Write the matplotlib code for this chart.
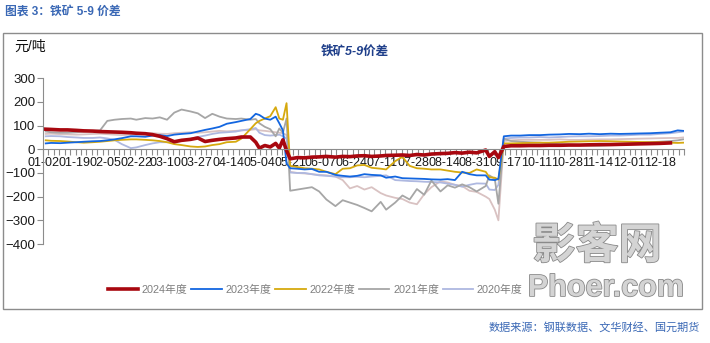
import numpy as np
import pandas as pd
import matplotlib
matplotlib.use("Agg")
import matplotlib.pyplot as plt
import matplotlib.patheffects as pe
from matplotlib.patches import Rectangle

plt.rcParams['font.family'] = ['Liberation Sans', 'Noto Sans CJK SC', 'DejaVu Sans']

# ---- category axis: calendar days (holidays with no trading in any year removed)
_d = pd.date_range('2023-01-01', '2023-12-31', freq='D')
_skip = {'01-01', '05-01', '05-02', '05-03'} | {f'10-0{i}' for i in range(1, 8)}
categories = [d.strftime('%m-%d') for d in _d if d.strftime('%m-%d') not in _skip]
tick_labels = ['01-02', '01-19', '02-05', '02-22', '03-10', '03-27', '04-14', '05-04',
               '05-21', '06-07', '06-24', '07-11', '07-28', '08-14', '08-31', '09-17',
               '10-11', '10-28', '11-14', '12-01', '12-18']

# ---- sample dates (same for every series)
sample_dates = [
    '01-03', '01-06', '01-11', '01-15', '01-20', '01-24', '01-29', '02-02', '02-06', '02-10',
    '02-14', '02-19', '02-22', '02-27', '03-03', '03-07', '03-11', '03-15', '03-19', '03-24',
    '03-28', '04-01', '04-05', '04-09', '04-13', '04-18', '04-21', '04-26', '04-29', '05-04',
    '05-07', '05-10', '05-13', '05-15', '05-17', '05-19',
    '05-21', '05-25', '05-29', '06-02', '06-06', '06-10', '06-15', '06-19', '06-23', '06-27',
    '07-01', '07-05', '07-10', '07-13', '07-18', '07-22', '07-26', '07-30', '08-03', '08-07',
    '08-12', '08-16', '08-20', '08-24', '08-28', '09-01', '09-06', '09-08', '09-11', '09-13',
    '09-16', '09-20', '09-25', '09-30', '10-13', '10-18', '10-24', '10-29', '11-04', '11-09',
    '11-15', '11-21', '11-26', '12-02', '12-07', '12-13', '12-18', '12-24', '12-28', '12-31']

nan = np.nan
y2024 = [85, 84, 82, 82, 80, 78, 77, 75, 74, 73, 72, 70, 68, 66, 62, 55, 45, 32, 38, 42,
         48, 33, 38, 42, 45, 48, 52, 52, 30, 5, 16, 10, 25, 5, 40, -5,
         -40, -35, -36, -33, -32, -30, -33, -30, -31, -28, -27, -30, -28, -26, -25, -24, -26, -22,
         -24, -20, -18, -17, -14, -16, -12, -15, -3, -30, -10, -35,
         12, 15, 15, 16, 16, 17, 17, 18, 18, 19, 20, 20, 21, 22, 23, 24, 25, 27, nan, nan]
y2023 = [25, 27, 26, 28, 30, 32, 34, 35, 38, 42, 47, 55, 55, 53, 58, 60, 56, 62, 65, 68,
         75, 82, 88, 95, 108, 115, 120, 128, 150, 145, 130, 125, 138, 110, 80, -60,
         -80, -82, -85, -83, -95, -95, -108, -112, -115, -112, -105, -108, -110, -120, -115, -122,
         -123, -124, -125, -127, -128, -126, -130, -95, -105, -110, -110, -128, -130, -125,
         55, 58, 58, 60, 60, 62, 63, 65, 64, 66, 64, 66, 65, 66, 67, 68, 70, 72, 80, 78]
y2022 = [38, 36, 35, 33, 30, 28, 30, 32, 35, 38, 40, 42, 42, 40, 38, 35, 30, 22, 18, 12,
         10, 12, 18, 22, 30, 32, 45, 85, 110, 120, 130, 140, 178, 130, 125, 195,
         -70, -75, -80, -82, -85, -95, -105, -82, -80, -68, -66, -78, -82, -85, -50, -32,
         -70, -80, -82, -85, -85, -90, -95, -98, -100, -85, -95, -118, -120, -128,
         25, 25, 26, 27, 28, 28, 30, 32, 33, 34, 35, 34, 33, 32, 31, 30, 30, 28, 27, 28]
y2021 = [75, 72, 70, 70, 72, 75, 78, 80, 120, 125, 128, 130, 125, 132, 130, 135, 125, 155,
         168, 160, 152, 132, 150, 138, 130, 128, 130, 125, 128, 110, 95, 85, 55, 88, 70, 130,
         -175, -170, -165, -160, -178, -212, -240, -215, -225, -235, -248, -262, -222, -255,
         -225, -195, -212, -168, -192, -132, -178, -152, -162, -148, -160, -178, -155, -110,
         -125, -230,
         45, 35, 32, 30, 28, 25, 22, 20, 18, 16, 15, 18, 22, 25, 28, 30, 32, 35, 38, 42]
y2020 = [55, 56, 55, 52, 50, 48, 48, 50, 46, 40, 22, 5, 8, 18, 25, 30, 30, 32, 35, 45,
         52, 58, 65, 70, 72, 75, 80, 85, 90, 70, 60, 58, 60, 62, 55, 45,
         -98, -100, -100, -105, -110, -112, -115, -118, -118, -116, -118, -115, -112, -110,
         -130, -132, -134, -135, -137, -138, -140, -145, -150, -158, -150, -144, -145, -170,
         -172, -150,
         45, 48, 50, 50, 52, 50, 52, 54, 55, 55, 56, 58, 58, 60, 62, 62, 65, 68, 72, 75]
y2019 = [65, 66, 64, 63, 62, 63, 65, 66, 64, 62, 60, 62, 64, 66, 68, 66, 65, 68, 70, 72,
         70, 72, 75, 78, 76, 78, 80, 82, 85, 80, 78, 75, 72, 70, 68, 60,
         -95, -100, -102, -105, -108, -110, -115, -130, -165, -155, -170, -160, -185, -195,
         -205, -210, -225, -232, -190, -160, -135, -140, -150, -155, -175, -180, -200, -210,
         -255, -300,
         35, 38, 40, 40, 40, 40, 42, 40, 40, 41, 42, 42, 43, 44, 45, 46, 47, 48, 48, 50]

series = [
    ('2019年度', y2019, '#d9c2c2', 1.3, False),
    ('2020年度', y2020, '#aeb8e0', 1.3, True),
    ('2021年度', y2021, '#a6a6a6', 1.3, True),
    ('2022年度', y2022, '#d6a90e', 1.3, True),
    ('2023年度', y2023, '#1366e0', 1.3, True),
    ('2024年度', y2024, '#a8070f', 2.6, True),
]

W, H = 710, 343
fig = plt.figure(figsize=(W / 100, H / 100), dpi=100)

def fx(px):
    return px / W

def fy(py):
    return 1 - py / H

# outer frame
fig.patches.append(Rectangle((fx(3), fy(309)), fx(699), 276 / H, transform=fig.transFigure,
                             fill=False, edgecolor='#8c8c8c', linewidth=1.0))

ax = fig.add_axes([fx(43), fy(244), fx(684 - 43), (244 - 78.3) / H])
pos = [categories.index(d) for d in sample_dates]
handles = {}
for name, vals, col, lw, show in series:
    ln, = ax.plot(pos, vals, color=col, lw=lw, solid_joinstyle='round',
                  label=name if show else '_nolegend_')
    handles[name] = ln

ax.set_xlim(-0.5, len(categories) - 0.5)
ax.set_ylim(-400, 300)
ax.set_yticks(np.arange(-400, 301, 100))
for s in ['top', 'right']:
    ax.spines[s].set_visible(False)
ax.spines['left'].set_color('#8c8c8c')
ax.spines['bottom'].set_position(('data', 0))
ax.spines['bottom'].set_color('#8c8c8c')
ax.tick_params(axis='y', direction='out', length=4.5, width=0.8, color='#8c8c8c',
               labelsize=9.5, labelcolor='#1a1a1a', pad=1)
ax.set_xticks([categories.index(t) for t in tick_labels])
ax.set_xticklabels(tick_labels)
ax.set_xticks(np.arange(-0.5, len(categories), 3), minor=True)
ax.tick_params(axis='x', which='major', length=0, labelsize=9, labelcolor='#1a1a1a', pad=5.5)
ax.tick_params(axis='x', which='minor', direction='out', length=4.5, width=0.8,
               color='#8c8c8c')
ax.patch.set_alpha(0)

order = ['2024年度', '2023年度', '2022年度', '2021年度', '2020年度']
leg = fig.legend([handles[n] for n in order], order, loc='center left',
                 bbox_to_anchor=(fx(98), fy(290)), ncol=5, frameon=False,
                 fontsize=7.8, handlelength=2.8, handletextpad=0.35, columnspacing=0.35,
                 labelcolor='#7f7f7f')

fig.text(fx(5), fy(12), '图表 3：铁矿 5-9 价差', fontsize=8.5, fontweight='bold',
         color='#3a68b5', va='center', ha='left')
fig.text(fx(14), fy(47), '元/吨', fontsize=10, color='#111111', va='center', ha='left')
fig.text(fx(355), fy(51), '铁矿5-9价差', fontsize=9, fontweight='bold', style='italic',
         color='#1f3f8a', va='center', ha='center')
fig.text(fx(700), fy(327), '数据来源：钢联数据、文华财经、国元期货', fontsize=8,
         color='#3a68b5', va='center', ha='right')

# watermark
wm = [pe.withStroke(linewidth=1.2, foreground='#8a8a8a')]
fig.text(fx(597), fy(247), '影客网', fontsize=31, fontweight='bold', color='#d4d4d4',
         ha='center', va='center', path_effects=wm)
fig.text(fx(606), fy(288), 'Phoer.com', fontsize=22, fontweight='bold', color='#d4d4d4',
         ha='center', va='center', path_effects=wm)

fig.savefig('out.png', dpi=100)
